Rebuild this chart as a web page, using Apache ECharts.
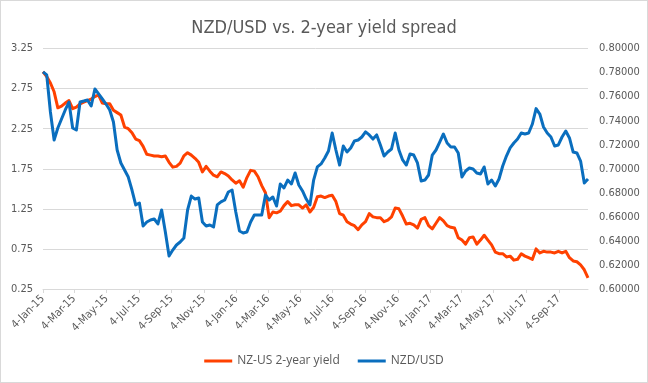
<!DOCTYPE html>
<html>
<head>
<meta charset="utf-8">
<script src="https://cdn.jsdelivr.net/npm/echarts@6/dist/echarts.min.js"></script>
<style>
html,body{margin:0;padding:0;background:#fff;}
#wrap{width:648px;height:383px;box-sizing:border-box;border:1px solid #d9d9d9;background:#fff;}
#chart{width:646px;height:381px;}
</style>
</head>
<body>
<div id="wrap"><div id="chart"></div></div>
<script>
// Weekly observations starting Sunday 4-Jan-2015
const startDate = '2015-01-04';
const tickDates = ['2015-01-04','2015-03-04','2015-05-04','2015-07-04','2015-09-04','2015-11-04',
  '2016-01-04','2016-03-04','2016-05-04','2016-07-04','2016-09-04','2016-11-04',
  '2017-01-04','2017-03-04','2017-05-04','2017-07-04','2017-09-04'];
const monthNames = ['Jan','Feb','Mar','Apr','May','Jun','Jul','Aug','Sep','Oct','Nov','Dec'];

const yieldSpread = [
  2.96,2.90,2.82,2.71,2.51,2.53,2.57,2.60,2.50,2.52,
  2.56,2.58,2.60,2.62,2.65,2.67,2.57,2.56,2.56,2.48,
  2.45,2.42,2.27,2.25,2.20,2.12,2.10,2.03,1.93,1.92,
  1.91,1.91,1.90,1.91,1.83,1.77,1.78,1.82,1.91,1.95,
  1.92,1.88,1.83,1.71,1.78,1.72,1.67,1.65,1.71,1.69,
  1.66,1.61,1.57,1.60,1.52,1.64,1.73,1.72,1.65,1.54,
  1.45,1.14,1.21,1.20,1.22,1.29,1.34,1.29,1.30,1.30,
  1.26,1.30,1.21,1.27,1.40,1.41,1.39,1.41,1.42,1.34,
  1.19,1.17,1.09,1.06,1.04,0.99,1.05,1.09,1.19,1.15,
  1.14,1.14,1.09,1.11,1.15,1.26,1.25,1.16,1.06,1.07,
  1.05,1.01,1.12,1.14,1.04,1.00,1.07,1.14,1.10,1.04,
  1.02,1.01,0.89,0.86,0.81,0.89,0.90,0.81,0.86,0.92,
  0.86,0.80,0.71,0.69,0.69,0.65,0.66,0.61,0.62,0.69,
  0.66,0.64,0.62,0.75,0.70,0.72,0.71,0.71,0.70,0.72,
  0.70,0.72,0.64,0.60,0.59,0.55,0.49,0.39
];

const nzdusd = [
  0.7805,0.7780,0.7472,0.7239,0.7339,0.7414,0.7489,0.7555,0.7339,0.7322,
  0.7555,0.7563,0.7572,0.7522,0.7663,0.7622,0.7580,0.7538,0.7489,0.7389,
  0.7156,0.7048,0.6990,0.6931,0.6823,0.6699,0.6715,0.6524,0.6557,0.6574,
  0.6582,0.6541,0.6657,0.6474,0.6274,0.6324,0.6366,0.6391,0.6424,0.6657,
  0.6773,0.6748,0.6757,0.6557,0.6524,0.6532,0.6516,0.6699,0.6724,0.6740,
  0.6807,0.6823,0.6640,0.6482,0.6466,0.6474,0.6557,0.6615,0.6615,0.6615,
  0.6782,0.6740,0.6765,0.6690,0.6873,0.6840,0.6906,0.6873,0.6965,0.6865,
  0.6815,0.6748,0.6699,0.6906,0.7015,0.7040,0.7089,0.7148,0.7297,0.7156,
  0.7031,0.7189,0.7139,0.7173,0.7231,0.7239,0.7264,0.7306,0.7281,0.7247,
  0.7281,0.7198,0.7106,0.7139,0.7164,0.7297,0.7156,0.7073,0.7031,0.7123,
  0.7114,0.7048,0.6898,0.6906,0.6948,0.7114,0.7156,0.7222,0.7289,0.7214,
  0.7181,0.7181,0.7131,0.6931,0.6981,0.7006,0.6998,0.6965,0.6956,0.7015,
  0.6873,0.6906,0.6857,0.6915,0.7023,0.7106,0.7173,0.7214,0.7247,0.7297,
  0.7289,0.7297,0.7372,0.7500,0.7455,0.7347,0.7297,0.7264,0.7189,0.7198,
  0.7264,0.7314,0.7256,0.7139,0.7131,0.7064,0.6882,0.6915
];

const DAY = 86400000;
const t0 = Date.parse(startDate + 'T00:00:00Z');
const weekDates = yieldSpread.map((_, i) => t0 + i * 7 * DAY);
const tickValues = tickDates.map(d => Date.parse(d + 'T00:00:00Z'));

function fmtDate(v){
  const d = new Date(v);
  return d.getUTCDate() + '-' + monthNames[d.getUTCMonth()] + '-' + String(d.getUTCFullYear()).slice(2);
}

const FONT = '"Liberation Sans Narrow", "DejaVu Sans Condensed", "Liberation Sans", sans-serif';
const TXT = '#595959';
const GRID = '#d9d9d9';

const chart = echarts.init(document.getElementById('chart'), null, {renderer:'canvas'});
chart.setOption({
  animation:false,
  backgroundColor:'#fff',
  textStyle:{fontFamily:FONT},
  title:{
    text:'NZD/USD vs. 2-year yield spread',
    left:'center', top:13,
    textStyle:{fontFamily:FONT, fontSize:18, fontWeight:'normal', color:TXT}
  },
  legend:{
    bottom:10, left:'center',
    icon:'rect', itemWidth:28, itemHeight:3, itemGap:18,
    textStyle:{fontFamily:'"Open Sans", sans-serif', fontSize:12, color:TXT},
    data:['NZ-US 2-year yield','NZD/USD']
  },
  grid:{left:42, right:59, top:47.5, bottom:93, containLabel:false},
  xAxis:{
    type:'value',
    min:weekDates[0], max:weekDates[weekDates.length-1],
    axisLine:{lineStyle:{color:GRID}},
    axisTick:{show:true, length:4, lineStyle:{color:GRID}, customValues:tickValues},
    axisLabel:{
      customValues:tickValues,
      rotate:45, fontSize:11, color:TXT, fontFamily:FONT, margin:8,
      formatter:fmtDate, hideOverlap:false
    },
    splitLine:{show:false}
  },
  yAxis:[{
    type:'value', min:0.25, max:3.25, interval:0.5, position:'left',
    axisLine:{show:false}, axisTick:{show:false},
    axisLabel:{fontSize:11, color:TXT, fontFamily:FONT, margin:10, formatter:v=>v.toFixed(2)},
    splitLine:{lineStyle:{color:GRID, width:1}}
  },{
    type:'value', min:0.6, max:0.8, interval:0.02, position:'right',
    axisLine:{show:false}, axisTick:{show:false},
    axisLabel:{fontSize:11, color:TXT, fontFamily:FONT, margin:11, formatter:v=>v.toFixed(5)},
    splitLine:{show:false}
  }],
  series:[{
    name:'NZ-US 2-year yield', type:'line', yAxisIndex:0,
    data:weekDates.map((d,i)=>[d, yieldSpread[i]]),
    showSymbol:false, symbol:'none',
    lineStyle:{color:'#FF4100', width:3, join:'round'},
    itemStyle:{color:'#FF4100'}, z:2
  },{
    name:'NZD/USD', type:'line', yAxisIndex:1,
    data:weekDates.map((d,i)=>[d, nzdusd[i]]),
    showSymbol:false, symbol:'none',
    lineStyle:{color:'#0A6EBE', width:3, join:'round'},
    itemStyle:{color:'#0A6EBE'}, z:3
  }]
});
</script>
</body>
</html>
